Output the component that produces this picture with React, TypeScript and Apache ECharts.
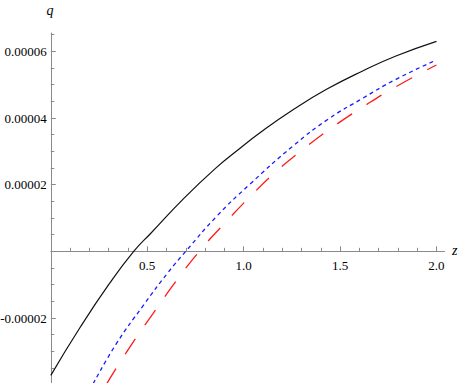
import React, { useEffect, useRef } from "react";
import * as echarts from "echarts";

// z and q values, q in units of 1e-5
const blackZ = [0, 0.15, 0.3, 0.43, 0.52, 0.69, 0.86, 0.97, 1.09, 1.26, 1.43, 1.62, 1.79, 2.0];
const blackQ = [-3.72, -2.3, -1.0, 0, 0.55, 1.59, 2.52, 3.04, 3.58, 4.26, 4.86, 5.42, 5.86, 6.3];

const blueZ = [0.22, 0.34, 0.48, 0.61, 0.7, 0.86, 1.03, 1.26, 1.44, 1.62, 1.79, 2.0];
const blueQ = [-3.97, -2.77, -1.62, -0.62, 0, 1.05, 2.0, 3.18, 3.97, 4.6, 5.16, 5.74];

const redZ = [0.29, 0.41, 0.53, 0.64, 0.77, 0.9, 1.03, 1.16, 1.31, 1.46, 1.61, 1.79, 2.0];
const redQ = [-3.97, -2.87, -1.87, -0.97, 0, 0.83, 1.62, 2.35, 3.07, 3.72, 4.3, 4.94, 5.59];

const SCALE = 1e-5;

const xTickValues = [0.5, 1.0, 1.5, 2.0];
const xTickLabels = ["0.5", "1.0", "1.5", "2.0"];
const yTickValues = [-0.00002, 0.00002, 0.00004, 0.00006];
const yTickLabels = ["-0.00002", "0.00002", "0.00004", "0.00006"];

const xAxisName = "z";
const yAxisName = "q";

function pairs(xs: number[], ys: number[]) {
  return xs.map((x, i) => [x, ys[i] * SCALE]);
}

function labelFor(values: number[], labels: string[], v: number) {
  let best = 0;
  let bd = Infinity;
  values.forEach((t, i) => {
    const d = Math.abs(t - v);
    if (d < bd) {
      bd = d;
      best = i;
    }
  });
  return labels[best];
}

const FONT = "Liberation Serif";

export default function App() {
  const ref = useRef<HTMLDivElement>(null);
  useEffect(() => {
    if (!ref.current) return;
    const chart = echarts.init(ref.current, null, { renderer: "svg" });
    const axisColor = "#8a8a8a";
    const yMin = -0.00004;
    const yMax = 0.0000655;
    const gridHeight = 351.7;
    const zeroOffset = (gridHeight * (0 - yMin)) / (yMax - yMin);
    chart.setOption({
      animation: false,
      backgroundColor: "#ffffff",
      grid: {
        left: 50.8,
        top: 33,
        width: 393.7,
        height: gridHeight,
        containLabel: false,
        outerBoundsMode: "none",
      },
      xAxis: {
        type: "value",
        min: 0,
        max: 2.0417,
        interval: 0.5,
        position: "bottom",
        offset: -zeroOffset,
        axisLine: { show: true, onZero: false, lineStyle: { color: axisColor, width: 1 } },
        axisTick: {
          show: true,
          inside: true,
          length: 5,
          customValues: xTickValues,
          lineStyle: { color: axisColor, width: 1 },
        },
        minorTick: { show: true, splitNumber: 5, length: 3.5, lineStyle: { color: axisColor, width: 1 } },
        axisLabel: {
          customValues: xTickValues,
          formatter: (v: number) => labelFor(xTickValues, xTickLabels, v),
          margin: 8,
          color: "#000",
          fontFamily: FONT,
          fontSize: 13,
        },
        splitLine: { show: false },
        minorSplitLine: { show: false },
      },
      yAxis: {
        type: "value",
        min: yMin,
        max: yMax,
        interval: 0.00002,
        axisLine: { show: true, onZero: false, lineStyle: { color: axisColor, width: 1 } },
        axisTick: {
          show: true,
          inside: true,
          length: 5,
          customValues: yTickValues,
          lineStyle: { color: axisColor, width: 1 },
        },
        minorTick: { show: true, splitNumber: 4, length: 3.5, lineStyle: { color: axisColor, width: 1 } },
        axisLabel: {
          customValues: yTickValues,
          formatter: (v: number) => labelFor(yTickValues, yTickLabels, v),
          margin: 4,
          color: "#000",
          fontFamily: FONT,
          fontSize: 13,
        },
        splitLine: { show: false },
        minorSplitLine: { show: false },
      },
      graphic: [
        {
          type: "text",
          x: 50,
          y: 17,
          style: {
            text: yAxisName,
            fill: "#000",
            fontFamily: FONT,
            fontStyle: "italic",
            fontSize: 14,
            textAlign: "center",
            textVerticalAlign: "bottom",
          },
        },
        {
          type: "text",
          x: 452,
          y: 257,
          style: {
            text: xAxisName,
            fill: "#000",
            fontFamily: FONT,
            fontStyle: "italic",
            fontSize: 14,
            textAlign: "left",
            textVerticalAlign: "bottom",
          },
        },
      ],
      series: [
        {
          type: "line",
          data: pairs(redZ, redQ),
          showSymbol: false,
          smooth: 0.5,
          lineStyle: { color: "#ff1a1a", width: 1.3, type: [18, 17] },
          z: 2,
        },
        {
          type: "line",
          data: pairs(blueZ, blueQ),
          showSymbol: false,
          smooth: 0.5,
          lineStyle: { color: "#1a1aff", width: 1.3, type: [4, 3.5] },
          z: 3,
        },
        {
          type: "line",
          data: pairs(blackZ, blackQ),
          showSymbol: false,
          smooth: 0.5,
          lineStyle: { color: "#111111", width: 1.2, type: "solid" },
          z: 4,
        },
      ],
    });
    return () => chart.dispose();
  }, []);
  return (
    <div
      ref={ref}
      style={{ position: "absolute", left: 0, top: 0, width: 460, height: 383 }}
    />
  );
}
